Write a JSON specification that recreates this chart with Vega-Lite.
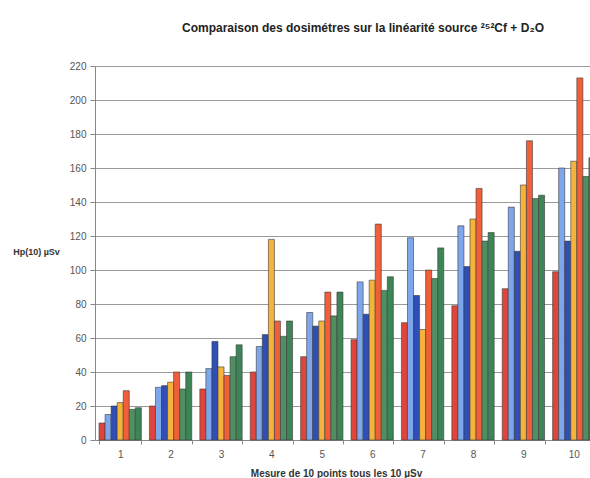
{
  "$schema": "https://vega.github.io/schema/vega-lite/v6.json",
  "width": 504,
  "height": 374,
  "autosize": {"type": "none"},
  "padding": {"left": 95, "top": 66, "right": 0, "bottom": 38},
  "background": "#ffffff",
  "title": {
    "text": "Comparaison des dosimétres sur la linéarité source ²⁵²Cf + D₂O",
    "font": "Liberation Sans",
    "fontSize": 12,
    "fontWeight": "bold",
    "color": "#222222",
    "anchor": "middle",
    "frame": "group",
    "dx": 16,
    "offset": 26
  },
  "data": {
    "values": [
      {"m": "1", "d": "d1", "v": 10}, {"m": "1", "d": "d2", "v": 15}, {"m": "1", "d": "d3", "v": 20}, {"m": "1", "d": "d4", "v": 22}, {"m": "1", "d": "d5", "v": 29}, {"m": "1", "d": "d6", "v": 18}, {"m": "1", "d": "d7", "v": 19},
      {"m": "2", "d": "d1", "v": 20}, {"m": "2", "d": "d2", "v": 31}, {"m": "2", "d": "d3", "v": 32}, {"m": "2", "d": "d4", "v": 34}, {"m": "2", "d": "d5", "v": 40}, {"m": "2", "d": "d6", "v": 30}, {"m": "2", "d": "d7", "v": 40},
      {"m": "3", "d": "d1", "v": 30}, {"m": "3", "d": "d2", "v": 42}, {"m": "3", "d": "d3", "v": 58}, {"m": "3", "d": "d4", "v": 43}, {"m": "3", "d": "d5", "v": 38}, {"m": "3", "d": "d6", "v": 49}, {"m": "3", "d": "d7", "v": 56},
      {"m": "4", "d": "d1", "v": 40}, {"m": "4", "d": "d2", "v": 55}, {"m": "4", "d": "d3", "v": 62}, {"m": "4", "d": "d4", "v": 118}, {"m": "4", "d": "d5", "v": 70}, {"m": "4", "d": "d6", "v": 61}, {"m": "4", "d": "d7", "v": 70},
      {"m": "5", "d": "d1", "v": 49}, {"m": "5", "d": "d2", "v": 75}, {"m": "5", "d": "d3", "v": 67}, {"m": "5", "d": "d4", "v": 70}, {"m": "5", "d": "d5", "v": 87}, {"m": "5", "d": "d6", "v": 73}, {"m": "5", "d": "d7", "v": 87},
      {"m": "6", "d": "d1", "v": 59}, {"m": "6", "d": "d2", "v": 93}, {"m": "6", "d": "d3", "v": 74}, {"m": "6", "d": "d4", "v": 94}, {"m": "6", "d": "d5", "v": 127}, {"m": "6", "d": "d6", "v": 88}, {"m": "6", "d": "d7", "v": 96},
      {"m": "7", "d": "d1", "v": 69}, {"m": "7", "d": "d2", "v": 119}, {"m": "7", "d": "d3", "v": 85}, {"m": "7", "d": "d4", "v": 65}, {"m": "7", "d": "d5", "v": 100}, {"m": "7", "d": "d6", "v": 95}, {"m": "7", "d": "d7", "v": 113},
      {"m": "8", "d": "d1", "v": 79}, {"m": "8", "d": "d2", "v": 126}, {"m": "8", "d": "d3", "v": 102}, {"m": "8", "d": "d4", "v": 130}, {"m": "8", "d": "d5", "v": 148}, {"m": "8", "d": "d6", "v": 117}, {"m": "8", "d": "d7", "v": 122},
      {"m": "9", "d": "d1", "v": 89}, {"m": "9", "d": "d2", "v": 137}, {"m": "9", "d": "d3", "v": 111}, {"m": "9", "d": "d4", "v": 150}, {"m": "9", "d": "d5", "v": 176}, {"m": "9", "d": "d6", "v": 142}, {"m": "9", "d": "d7", "v": 144},
      {"m": "10", "d": "d1", "v": 99}, {"m": "10", "d": "d2", "v": 160}, {"m": "10", "d": "d3", "v": 117}, {"m": "10", "d": "d4", "v": 164}, {"m": "10", "d": "d5", "v": 213}, {"m": "10", "d": "d6", "v": 155}, {"m": "10", "d": "d7", "v": 166}
    ]
  },
  "mark": {"type": "bar", "stroke": "#3a3a3a", "strokeWidth": 0.6},
  "encoding": {
    "x": {
      "field": "m",
      "type": "ordinal",
      "sort": null,
      "scale": {"paddingInner": 0.16, "paddingOuter": 0.08},
      "axis": {
        "title": "Mesure de 10 points tous les 10 µSv",
        "titleFont": "Liberation Sans",
        "titleFontSize": 10,
        "titleFontWeight": "bold",
        "titleColor": "#333333",
        "titleAnchor": "start",
        "titleAlign": "center",
        "titleX": 241,
        "titleY": 36,
        "titleBaseline": "alphabetic",
        "labelAngle": 0,
        "labelFont": "Liberation Sans",
        "labelFontSize": 10,
        "labelColor": "#555555",
        "labelPadding": 5,
        "tickBand": "extent",
        "tickSize": 4,
        "tickColor": "#888888",
        "domainColor": "#888888",
        "grid": false
      }
    },
    "xOffset": {"field": "d", "type": "nominal"},
    "y": {
      "field": "v",
      "type": "quantitative",
      "scale": {"domain": [0, 220], "nice": false},
      "axis": {
        "values": [0, 20, 40, 60, 80, 100, 120, 140, 160, 180, 200, 220],
        "title": "Hp(10) µSv",
        "titleAngle": 0,
        "titleFont": "Liberation Sans",
        "titleFontSize": 9,
        "titleFontWeight": "bold",
        "titleColor": "#333333",
        "titleAlign": "center",
        "titleBaseline": "middle",
        "titleX": -59,
        "titleY": 185,
        "labelFont": "Liberation Sans",
        "labelFontSize": 10,
        "labelColor": "#555555",
        "labelPadding": 4,
        "tickSize": 5,
        "tickColor": "#888888",
        "domainColor": "#888888",
        "gridColor": "#9a9a9a",
        "gridWidth": 1
      }
    },
    "color": {
      "field": "d",
      "type": "nominal",
      "legend": null,
      "scale": {
        "domain": ["d1", "d2", "d3", "d4", "d5", "d6", "d7"],
        "range": ["#e0453c", "#7ea6ec", "#2f4fb5", "#f4b33a", "#f05e3a", "#4f8f62", "#3d8457"]
      }
    }
  },
  "config": {
    "view": {"stroke": null}
  }
}
